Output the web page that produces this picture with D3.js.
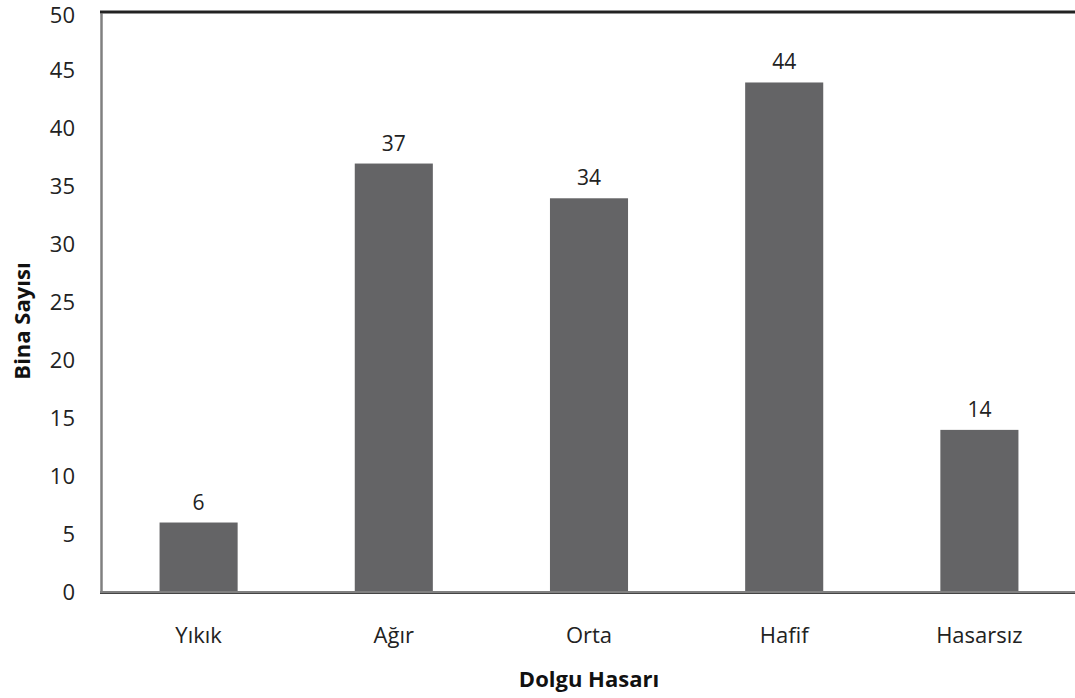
<!DOCTYPE html>
<html><head><meta charset="utf-8">
<script src="https://cdn.jsdelivr.net/npm/d3@7"></script>
<style>body{margin:0;background:#fff}svg{display:block}</style>
</head><body>
<script>
const categories = ["Yıkık","Ağır","Orta","Hafif","Hasarsız"];
const values = [6,37,34,44,14];
const yTicks = [0,5,10,15,20,25,30,35,40,45,50];

(function(){
const W=1075,H=698;
const svg=d3.select("body").append("svg").attr("width",W).attr("height",H);
const mLeft=101,mRight=1077,mTop=13,mBottom=592;
const x=d3.scaleBand().domain(categories).range([mLeft,mRight]).paddingInner(0.6).paddingOuter(0.3);
const y=d3.scaleLinear().domain([0,50]).range([mBottom,mTop]);
const font="'Open Sans', sans-serif";

svg.selectAll("rect.bar").data(values).enter().append("rect")
 .attr("x",(d,i)=>x(categories[i])).attr("width",x.bandwidth())
 .attr("y",d=>y(d)).attr("height",d=>y(0)-y(d)).attr("fill","#646466");

svg.selectAll("text.val").data(values).enter().append("text")
 .attr("x",(d,i)=>x(categories[i])+x.bandwidth()/2).attr("y",d=>y(d)-13)
 .attr("text-anchor","middle").attr("font-family",font).attr("font-size",21).attr("fill","#222")
 .text(d=>d);

const ya=svg.append("g").attr("transform",`translate(${mLeft},0)`)
 .call(d3.axisLeft(y).tickValues(yTicks).tickSize(0).tickPadding(26));
ya.select(".domain").attr("stroke","#808080").attr("stroke-width",2.5);
ya.selectAll("text").attr("font-family",font).attr("font-size",22).attr("fill","#222");
ya.selectAll(".tick").filter(d=>d===50).select("text").attr("dy","0.38em").attr("y",1);

const xa=svg.append("g").attr("transform",`translate(0,${mBottom})`)
 .call(d3.axisBottom(x).tickSize(0).tickPadding(35));
xa.select(".domain").remove();
xa.selectAll("text").attr("font-family",font).attr("font-size",22).attr("fill","#222");
svg.append("line").attr("x1",mLeft-1).attr("x2",W).attr("y1",mBottom).attr("y2",mBottom).attr("stroke","#808080").attr("stroke-width",2);
svg.append("line").attr("x1",mLeft-1).attr("x2",W).attr("y1",mBottom+1.5).attr("y2",mBottom+1.5).attr("stroke","#444").attr("stroke-width",1);

svg.append("line").attr("x1",mLeft-1).attr("x2",W).attr("y1",mTop-1).attr("y2",mTop-1).attr("stroke","#222").attr("stroke-width",3);

svg.append("text").attr("x",589).attr("y",687).attr("text-anchor","middle")
 .attr("font-family",font).attr("font-weight","bold").attr("font-size",22).attr("fill","#111").text("Dolgu Hasarı");
svg.append("text").attr("transform","translate(30,321) rotate(-90)").attr("text-anchor","middle")
 .attr("font-family",font).attr("font-weight","bold").attr("font-size",22).attr("fill","#111").text("Bina Sayısı");
})();
</script>
</body></html>
